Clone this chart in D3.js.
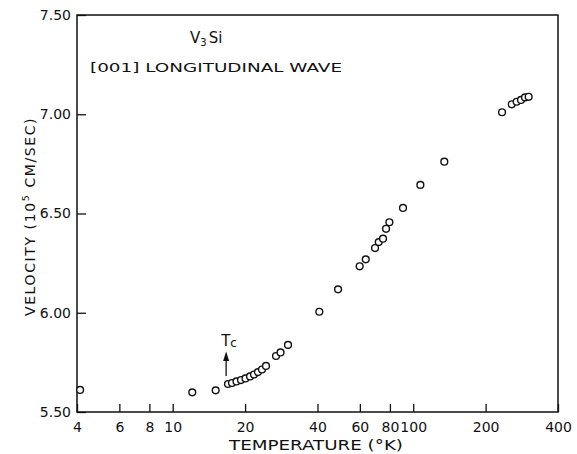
<!DOCTYPE html>
<html><head><meta charset="utf-8">
<script src="https://cdn.jsdelivr.net/npm/d3@7"></script>
<style>
html,body{margin:0;padding:0;background:#fff;}
svg{display:block;}
text{font-family:"DejaVu Sans",sans-serif;fill:#111;}
</style></head>
<body>
<svg id="c" width="577" height="454"></svg>
<script>
// Temperature (K) and velocity (1e5 cm/s)
const temperature = [4.12, 12.06, 15.09, 16.98, 17.64, 18.42, 19.23, 20.07, 20.97, 21.78, 22.62, 23.51, 24.43, 26.89, 28.08, 30.16, 40.7, 48.7, 59.9, 63.5, 69.4, 71.9, 74.9, 77.1, 79.6, 90.7, 107.1, 134.7, 234.1, 256.9, 269.3, 280.7, 291.7, 302.0];
const velocity    = [5.611, 5.599, 5.609, 5.641, 5.646, 5.654, 5.661, 5.669, 5.679, 5.689, 5.701, 5.714, 5.732, 5.782, 5.800, 5.838, 6.005, 6.118, 6.234, 6.269, 6.326, 6.356, 6.373, 6.423, 6.456, 6.528, 6.644, 6.761, 7.010, 7.050, 7.063, 7.072, 7.085, 7.088];
const xTicks = [4, 6, 8, 10, 20, 40, 60, 80, 100, 200, 400];
const yTicks = [5.5, 6.0, 6.5, 7.0, 7.5];
const tc = 17;

const svg = d3.select("#c");
const L = 77, R = 558, T = 15, B = 412;
const x = d3.scaleLog().domain([4, 400]).range([L, R]);
const y = d3.scaleLinear().domain([5.5, 7.5]).range([B, T]);

// frame
svg.append("rect").attr("x", L).attr("y", T).attr("width", R - L).attr("height", B - T)
  .attr("fill", "none").attr("stroke", "#111").attr("stroke-width", 1.5);

const xa = svg.append("g").attr("transform", `translate(0,${B})`)
  .call(d3.axisBottom(x).tickValues(xTicks).tickFormat(d3.format("d")).tickSizeInner(-8).tickSizeOuter(0).tickPadding(10));
xa.select(".domain").remove();
xa.selectAll("line").attr("stroke", "#111").attr("stroke-width", 1.3);
xa.selectAll("text").attr("font-size", 14).attr("fill", "#111").style("font-family", '"DejaVu Sans",sans-serif');

const ya = svg.append("g").attr("transform", `translate(${L},0)`)
  .call(d3.axisLeft(y).tickValues(yTicks).tickFormat(d3.format(".2f")).tickSizeInner(-9).tickSizeOuter(0).tickPadding(6));
ya.select(".domain").remove();
ya.selectAll("line").attr("stroke", "#111").attr("stroke-width", 1.3);
ya.selectAll("text").attr("font-size", 14).attr("fill", "#111").style("font-family", '"DejaVu Sans",sans-serif');

// axis titles
svg.append("text").attr("x", 229).attr("y", 450).attr("font-size", 13.5)
  .attr("textLength", 174).attr("lengthAdjust", "spacingAndGlyphs")
  .text("TEMPERATURE (°K)");

const yt = svg.append("text").attr("transform", "translate(35,316) rotate(-90)")
  .attr("font-size", 14).attr("letter-spacing", 1.6);
yt.append("tspan").text("VELOCITY  (10");
yt.append("tspan").attr("font-size", 9.5).attr("dy", -6).text("5");
yt.append("tspan").attr("dy", 6).text(" CM/SEC)");

// annotations
const t1 = svg.append("text").attr("x", 190).attr("y", 43).attr("font-size", 15);
t1.append("tspan").text("V");
t1.append("tspan").attr("font-size", 10).attr("dy", 3).text("3");
t1.append("tspan").attr("dy", -3).attr("dx", 2).text("Si");

svg.append("text").attr("x", 90).attr("y", 72).attr("font-size", 13)
  .attr("textLength", 252).attr("lengthAdjust", "spacingAndGlyphs")
  .text("[001] LONGITUDINAL WAVE");

// Tc arrow
const ax = x(tc) - 2;
svg.append("line").attr("x1", ax).attr("x2", ax).attr("y1", 376).attr("y2", 358)
  .attr("stroke", "#111").attr("stroke-width", 1.3);
svg.append("path").attr("d", `M${ax},351.5 L${ax - 3},361 L${ax + 3},361 Z`).attr("fill", "#111");
const tct = svg.append("text").attr("x", ax - 5).attr("y", 346).attr("font-size", 15);
tct.append("tspan").text("T");
tct.append("tspan").attr("font-size", 12).attr("dy", 1).attr("dx", 0).text("c");

// data
svg.append("g").selectAll("circle").data(temperature.map((t, i) => [t, velocity[i]]))
  .join("circle")
  .attr("cx", d => x(d[0])).attr("cy", d => y(d[1])).attr("r", 3.4)
  .attr("fill", "#fff").attr("stroke", "#111").attr("stroke-width", 1.4);
</script>
</body></html>
